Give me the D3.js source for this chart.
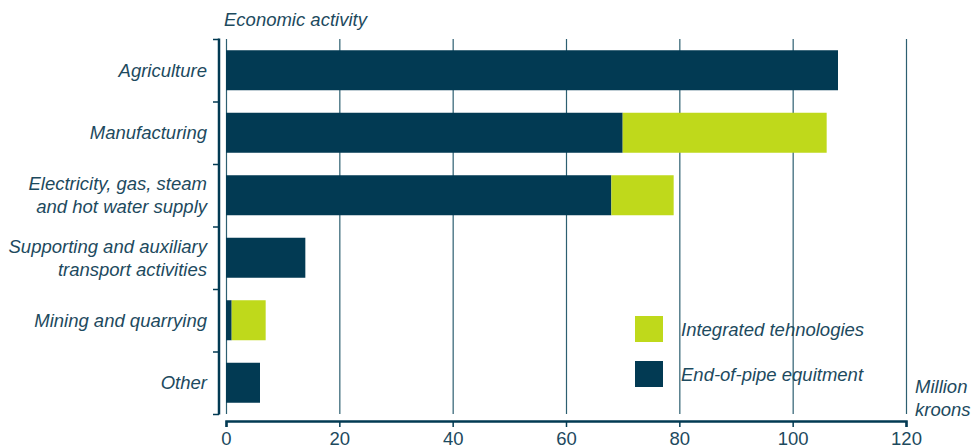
<!DOCTYPE html>
<html><head><meta charset="utf-8">
<script src="https://cdn.jsdelivr.net/npm/d3@7"></script>
<style>body{margin:0;background:#fff}text{font-family:"Liberation Sans",Arial,sans-serif}</style>
</head><body><svg id="c" width="973" height="448"></svg>
<script>
const categories = ["Agriculture","Manufacturing","Electricity, gas, steam\nand hot water supply","Supporting and auxiliary\ntransport activities","Mining and quarrying","Other"];
const endOfPipe = [108, 70, 68, 14, 1, 6];
const integrated = [0, 36, 11, 0, 6, 0];
const xTicks = [0,20,40,60,80,100,120];
const seriesNames = ["Integrated tehnologies","End-of-pipe equitment"];

const dark = "#023a53", green = "#bfd91b", txt = "#1d4a5e", grid = "#2d5f71";
const FS = 18.5;
const svg = d3.select("#c");
const x = d3.scaleLinear().domain([0,120]).range([226,906]);
const y = d3.scaleBand().domain(categories).range([39,414]).paddingInner(0.36).paddingOuter(0.18);
const yb = d3.scaleBand().domain(categories).range([39,414]);

// grid lines
svg.append("g").selectAll("line").data(xTicks).join("line")
  .attr("x1",d=>x(d)+0.5).attr("x2",d=>x(d)+0.5).attr("y1",39).attr("y2",414)
  .attr("stroke",grid).attr("stroke-width",1.2);

// bars
const data = categories.map((c,i)=>({c, e:endOfPipe[i], g:integrated[i]}));
const stack = d3.stack().keys(["e","g"])(data);
const colors = {e:dark,g:green};
svg.append("g").selectAll("g").data(stack).join("g").attr("fill",s=>colors[s.key])
  .selectAll("rect").data(s=>s).join("rect")
  .attr("x",d=>x(d[0])).attr("width",d=>x(d[1])-x(d[0]))
  .attr("y",d=>y(d.data.c)).attr("height",y.bandwidth());

// y axis (left line with ticks at band boundaries)
const yAxisX = 219;
svg.append("line").attr("x1",yAxisX).attr("x2",yAxisX).attr("y1",38.5).attr("y2",414.5)
  .attr("stroke",dark).attr("stroke-width",2.5);
const bounds = categories.map(c=>yb(c)).concat([414]);
svg.append("g").selectAll("line").data(bounds).join("line")
  .attr("x1",213).attr("x2",yAxisX).attr("y1",d=>d+0.5).attr("y2",d=>d+0.5)
  .attr("stroke",dark).attr("stroke-width",1.5);

// category labels
const lab = svg.append("g").selectAll("text").data(categories).join("text")
  .attr("text-anchor","end").attr("fill",txt).attr("font-size",FS).attr("font-style","italic")
  .attr("transform",c=>`translate(207,${yb(c)+yb.bandwidth()/2})`);
lab.each(function(c){
  const lines = c.split("\n"); const t = d3.select(this);
  lines.forEach((l,i)=>t.append("tspan").attr("x",0).attr("y",(i-(lines.length-1)/2)*23+6.5).text(l));
});

// x axis
const xa = svg.append("g").attr("transform","translate(0,421)")
  .call(d3.axisBottom(x).tickValues(xTicks).tickSize(6).tickPadding(5).tickFormat(d3.format("d")));
xa.select(".domain").attr("stroke",dark).attr("stroke-width",2.5);
xa.selectAll(".tick line").attr("stroke",dark).attr("stroke-width",1.5);
xa.selectAll(".tick text").attr("fill",txt).attr("font-size",FS).attr("font-family","Liberation Sans, Arial, sans-serif");

// title
svg.append("text").attr("x",224).attr("y",26).attr("fill",txt).attr("font-size",FS).attr("font-style","italic").text("Economic activity");
// unit
const u = svg.append("text").attr("fill",txt).attr("font-size",FS).attr("font-style","italic");
u.append("tspan").attr("x",915).attr("y",393).text("Million");
u.append("tspan").attr("x",915).attr("y",416).text("kroons");

// legend
const lg = svg.append("g");
const lc = [green, dark];
seriesNames.forEach((n,i)=>{
  lg.append("rect").attr("x",635).attr("y",316+i*45).attr("width",28).attr("height",26).attr("fill",lc[i]);
  lg.append("text").attr("x",681).attr("y",336+i*45).attr("fill",txt).attr("font-size",FS).attr("font-style","italic").text(n);
});
</script></body></html>
